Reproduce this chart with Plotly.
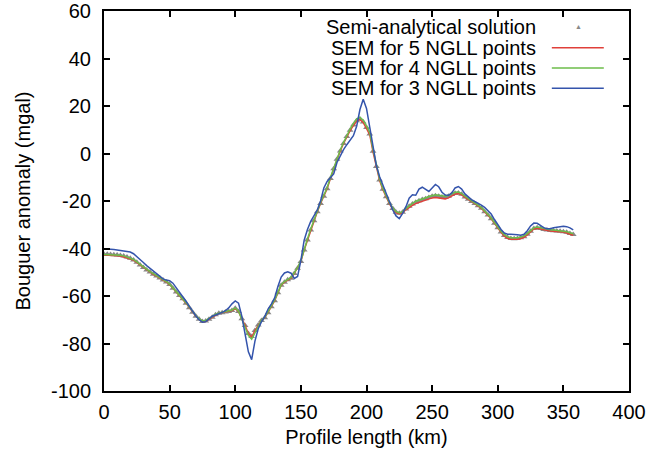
import numpy as np
import plotly.graph_objects as go

# sampling positions along the profile (km)
x_km = np.arange(0, 360, 2.5)

x_ticks = [0, 50, 100, 150, 200, 250, 300, 350, 400]
y_ticks = [-100, -80, -60, -40, -20, 0, 20, 40, 60]

series_names = ["Semi-analytical solution", "SEM for 5 NGLL points",
                "SEM for 4 NGLL points", "SEM for 3 NGLL points"]

semi = [
    -42.4, -42.4, -42.5, -42.6, -42.7, -42.9, -43.2, -43.6,
    -44.1, -44.8, -45.8, -46.9, -48.0, -49.0, -49.9, -50.8,
    -51.6, -52.4, -53.3, -54.1, -55.2, -56.7, -58.3, -59.8,
    -61.2, -63.0, -64.9, -66.8, -68.5, -69.8, -70.7, -70.5,
    -69.8, -68.9, -67.9, -67.3, -67.0, -66.7, -66.5, -66.1,
    -65.2, -66.5, -69.6, -72.4, -75.8, -77.0, -74.5, -72.2,
    -70.3, -69.2, -67.0, -64.5, -62.0, -58.6, -55.5, -54.2,
    -53.2, -52.5, -50.5, -48.3, -45.5, -40.6, -36.4, -32.2,
    -28.3, -24.5, -21.0, -18.0, -14.8, -10.5, -6.4, -2.4,
    1.1, 4.2, 7.2, 9.8, 12.0, 13.8, 14.5, 13.3,
    11.0, 8.2, 1.0, -5.5, -11.2, -15.0, -18.2, -21.0,
    -23.2, -24.7, -25.2, -24.7, -23.4, -22.2, -21.3, -20.5,
    -19.9, -19.4, -19.0, -18.5, -18.0, -17.8, -18.0, -18.3,
    -18.4, -18.0, -17.3, -16.7, -16.6, -17.2, -18.3, -19.3,
    -20.2, -21.1, -22.0, -23.1, -24.5, -25.9, -27.5, -29.4,
    -31.3, -33.0, -34.5, -35.4, -35.8, -35.9, -35.8, -35.5,
    -35.0, -34.0, -32.7, -31.6, -31.3, -31.6, -32.0, -32.2,
    -32.4, -32.5, -32.6, -32.7, -32.9, -33.2, -33.7, -34.1,
]

sem5 = [
    -42.7, -42.7, -42.8, -42.9, -43.0, -43.2, -43.5, -43.9,
    -44.4, -44.9, -45.9, -47.0, -48.1, -49.1, -50.0, -50.9,
    -51.6, -52.4, -53.3, -54.1, -55.2, -56.7, -58.3, -59.8,
    -61.2, -63.0, -64.9, -66.8, -68.5, -69.8, -70.8, -70.6,
    -69.8, -68.9, -67.9, -67.3, -67.0, -66.7, -66.5, -66.1,
    -65.3, -66.6, -69.5, -72.3, -75.9, -77.3, -74.6, -72.2,
    -70.3, -69.2, -67.0, -64.5, -62.0, -58.6, -55.5, -54.2,
    -53.2, -52.5, -50.5, -48.3, -45.5, -40.6, -36.4, -32.2,
    -28.3, -24.5, -21.0, -18.0, -14.8, -10.5, -6.4, -2.4,
    1.1, 4.2, 7.1, 9.6, 11.8, 13.6, 14.3, 13.0,
    10.6, 7.8, 0.6, -5.8, -11.4, -15.2, -18.4, -21.2,
    -23.4, -24.9, -25.4, -24.9, -23.7, -22.6, -21.8, -21.1,
    -20.6, -20.1, -19.7, -19.2, -18.7, -18.5, -18.7, -19.0,
    -19.1, -18.7, -17.8, -17.1, -16.9, -17.4, -18.5, -19.5,
    -20.2, -21.1, -22.0, -23.1, -24.5, -25.9, -27.5, -29.4,
    -31.4, -33.2, -34.8, -35.7, -36.1, -36.2, -36.1, -35.8,
    -35.3, -34.3, -32.9, -31.8, -31.5, -31.8, -32.2, -32.4,
    -32.6, -32.7, -32.8, -32.9, -33.1, -33.5, -34.0, -34.4,
]

sem4 = [
    -42.5, -42.5, -42.6, -42.6, -42.7, -42.8, -43.1, -43.5,
    -44.0, -44.6, -45.6, -46.7, -47.8, -48.8, -49.7, -50.6,
    -51.4, -52.2, -53.1, -53.9, -55.0, -56.5, -58.1, -59.6,
    -61.0, -62.8, -64.7, -66.6, -68.3, -69.6, -70.5, -70.3,
    -69.6, -68.7, -67.7, -67.1, -66.8, -66.5, -66.3, -65.9,
    -65.0, -66.4, -69.8, -72.9, -76.6, -78.2, -75.3, -72.5,
    -70.2, -69.0, -66.8, -64.2, -61.6, -58.2, -55.2, -53.9,
    -52.9, -52.2, -50.2, -48.0, -45.1, -40.2, -36.0, -31.8,
    -27.9, -24.1, -20.6, -17.6, -14.4, -10.1, -6.0, -2.0,
    1.5, 4.6, 7.6, 10.3, 12.6, 14.6, 15.2, 14.0,
    11.6, 8.8, 1.6, -5.0, -10.8, -14.7, -18.0, -20.8,
    -23.0, -24.5, -25.0, -24.5, -23.2, -22.0, -21.0, -20.1,
    -19.5, -19.0, -18.6, -18.1, -17.6, -17.4, -17.6, -17.9,
    -18.0, -17.6, -16.9, -16.3, -16.2, -16.9, -18.0, -19.0,
    -19.9, -20.8, -21.7, -22.8, -24.2, -25.6, -27.2, -29.1,
    -31.0, -32.7, -34.2, -35.1, -35.5, -35.6, -35.5, -35.2,
    -34.7, -33.7, -32.4, -31.3, -31.0, -31.3, -31.7, -31.9,
    -32.1, -32.2, -32.3, -32.4, -32.6, -32.9, -33.4, -33.8,
]

sem3 = [
    -40.3, -40.2, -40.3, -40.4, -40.6, -40.8, -41.0, -41.2,
    -41.5, -42.2, -43.3, -44.6, -45.9, -47.2, -48.4, -49.6,
    -50.8, -51.9, -52.8, -53.3, -53.6, -54.6, -56.4, -58.2,
    -60.0, -62.2, -64.4, -66.6, -68.4, -70.0, -71.0, -70.8,
    -69.6, -68.5, -68.0, -67.6, -66.9, -66.2, -65.0, -63.3,
    -62.1, -63.0, -68.5, -76.0, -83.5, -86.8, -79.0, -73.8,
    -70.8, -68.7, -65.5, -63.4, -60.8, -56.0, -52.0, -50.3,
    -49.8, -50.4, -52.6, -51.8, -45.0, -36.5, -32.0, -28.6,
    -26.2, -23.8, -20.0, -14.5, -11.8, -10.2, -8.6, -3.8,
    -0.8, 1.6, 3.7, 5.5, 7.5, 11.5, 18.5, 22.8,
    19.0, 11.0, 2.0, -5.0, -9.8, -13.5, -16.8, -20.5,
    -23.8, -26.3, -27.4, -25.2, -22.5, -18.8, -17.4, -17.6,
    -15.0, -14.2, -15.3, -16.0, -14.5, -13.0, -14.0, -16.3,
    -17.5, -17.6, -16.6, -14.5, -13.9, -15.0, -17.0, -18.4,
    -19.4, -20.2, -20.9, -21.7, -22.7, -23.9, -25.5, -27.8,
    -30.0, -32.0, -33.5, -34.0, -34.0, -34.0, -34.2, -34.4,
    -34.0, -32.5, -30.5, -29.3, -29.4, -30.3, -31.2, -31.7,
    -31.7, -31.3, -31.0, -30.7, -30.6, -30.8, -31.3, -32.2,
]

GREY = "#888888"
RED = "#e0403a"
GREEN = "#6cbd4a"
BLUE = "#3454ac"
line_colors = [RED, GREEN, BLUE]

fig = go.Figure()
fig.add_trace(go.Scatter(
    x=x_km, y=semi, mode="markers", name=series_names[0],
    marker=dict(symbol="triangle-up", size=6, color=GREY, line=dict(width=0)),
))
for ys, name, col in zip([sem5, sem4, sem3], series_names[1:], line_colors):
    fig.add_trace(go.Scatter(x=x_km, y=ys, mode="lines", name=name,
                             line=dict(color=col, width=1.5)))

FONT = "Liberation Sans, Arial, Helvetica, sans-serif"
FS = 20
fig.update_layout(
    template="none",
    width=649, height=456,
    margin=dict(l=104, r=20, t=11, b=65, autoexpand=False),
    plot_bgcolor="white", paper_bgcolor="white",
    font=dict(family=FONT, size=FS, color="black"),
    showlegend=False,
)
axis_common = dict(
    automargin=False,
    ticks="inside", ticklen=6, tickwidth=2, tickcolor="black",
    showline=True, linewidth=2, linecolor="black", mirror="ticks",
    showgrid=False, zeroline=False,
    tickfont=dict(family=FONT, size=FS, color="black"),
)
fig.update_xaxes(range=[0, 400], tickvals=x_ticks,
                 ticktext=[str(v) for v in x_ticks], ticklabelstandoff=2,
                 title=dict(text="Profile length (km)", standoff=8,
                            font=dict(family=FONT, size=FS)),
                 **axis_common)
fig.update_yaxes(range=[-100, 60], tickvals=y_ticks,
                 ticktext=[str(v) for v in y_ticks], ticklabelstandoff=7,
                 title=dict(text="Bouguer anomaly (mgal)", standoff=15,
                            font=dict(family=FONT, size=FS)),
                 **axis_common)

# key in the top-right corner: text on the left, sample on the right
key_y = [0.958, 0.903, 0.850, 0.797]
for i, (name, yk) in enumerate(zip(series_names, key_y)):
    fig.add_annotation(x=0.827, y=yk, xref="paper", yref="paper",
                       text=name, showarrow=False, xanchor="right",
                       yanchor="middle", font=dict(family=FONT, size=FS, color="black"))
    if i == 0:
        fig.add_annotation(x=0.903, y=yk, xref="paper", yref="paper",
                           text="▲", showarrow=False, xanchor="center",
                           yanchor="middle", font=dict(size=7, color=GREY))
    else:
        fig.add_shape(type="line", xref="paper", yref="paper",
                      x0=0.853, x1=0.952, y0=yk, y1=yk,
                      line=dict(color=line_colors[i - 1], width=1.5))

fig.write_html("out.html", config={"displayModeBar": False},
               post_script="document.body.style.margin='0px';")
